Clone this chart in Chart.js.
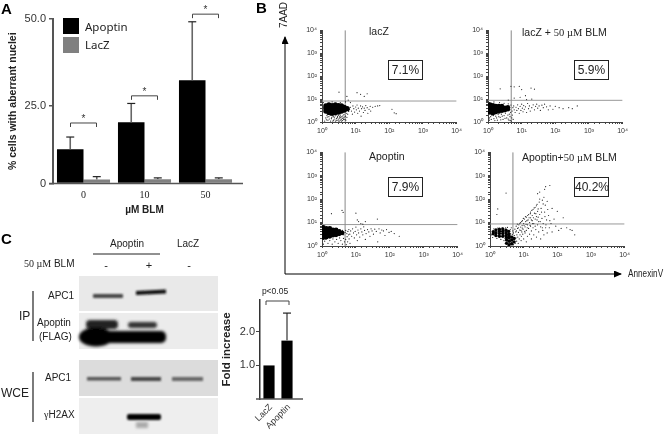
<!DOCTYPE html>
<html>
<head>
<meta charset="utf-8">
<script src="https://cdn.jsdelivr.net/npm/chart.js@4/dist/chart.umd.min.js"></script>
<style>
html, body { margin: 0; padding: 0; background: #fff; }
#page { position: relative; width: 664px; height: 434px; overflow: hidden; font-family: "Liberation Sans", Arial, sans-serif; color: #222; filter: blur(0.3px); }
canvas, svg { position: absolute; }
.t { position: absolute; white-space: nowrap; line-height: 1; }
.s { font-family: "Liberation Serif", serif; }
.box { position: absolute; width: 33px; height: 18px; border: 1px solid #222; text-align: center; line-height: 18px; font-size: 12px; }
.letter { font-weight: bold; font-size: 15px; color: #000; }
</style>
</head>
<body>
<div id="page">
<svg width="664" height="434">
  <defs>
    <filter id="b1" x="-20%" y="-50%" width="140%" height="200%"><feGaussianBlur stdDeviation="0.8"/></filter>
    <filter id="b2" x="-20%" y="-50%" width="140%" height="200%"><feGaussianBlur stdDeviation="1.6"/></filter>
    <marker id="head" markerWidth="8" markerHeight="8" refX="7" refY="3.5" orient="auto" markerUnits="userSpaceOnUse"><path d="M0 0L8 3.5L0 7z" fill="#000"/></marker>
  </defs>
  <!-- panel B arrows -->
  <polyline points="285,274 285,37" fill="none" stroke="#000" stroke-width="1" marker-end="url(#head)"/>
  <polyline points="285,274 621,274" fill="none" stroke="#000" stroke-width="1" marker-end="url(#head)"/>
  <!-- panel C blots -->
  <rect x="79" y="276" width="139" height="35" fill="#e9e9e9"/>
  <rect x="79" y="313" width="139" height="36" fill="#ececec"/>
  <rect x="79" y="360" width="139" height="36" fill="#dcdcdc"/>
  <rect x="79" y="398" width="139" height="36" fill="#eeeeee"/>
  <g filter="url(#b1)">
    <rect x="93" y="294" width="30" height="4" rx="1" fill="#444"/>
    <polygon points="136,291 166,289.5 166,293.5 136,295" fill="#111"/>
    <rect x="87" y="377" width="34" height="3.5" fill="#555"/>
    <rect x="131" y="377" width="30" height="4" fill="#444"/>
    <rect x="172" y="377" width="31" height="4" fill="#666"/>
    <rect x="127" y="414" width="34" height="6" rx="2" fill="#000"/>
  </g>
  <g filter="url(#b2)">
    <rect x="86" y="320" width="32" height="9" rx="4" fill="#222"/>
    <rect x="128" y="322" width="29" height="6" rx="3" fill="#333"/>
    <ellipse cx="96" cy="337" rx="17" ry="9.5" fill="#000"/>
    <rect x="90" y="331" width="76" height="12" rx="5" fill="#000"/>
    <rect x="136" y="422" width="12" height="6" fill="#aaa"/>
  </g>
  <line x1="93" y1="254" x2="160" y2="254" stroke="#222" stroke-width="1"/>
  <line x1="33" y1="291" x2="33" y2="341" stroke="#444" stroke-width="1.4"/>
  <line x1="33" y1="372" x2="33" y2="422" stroke="#444" stroke-width="1.4"/>
</svg>

<canvas id="barA" width="250" height="222" style="left:0;top:0"></canvas>
<canvas id="flow1" width="165" height="115" style="left:300px;top:23px"></canvas>
<canvas id="flow2" width="165" height="115" style="left:466px;top:23px"></canvas>
<canvas id="flow3" width="166" height="117" style="left:300px;top:145px"></canvas>
<canvas id="flow4" width="165" height="117" style="left:468px;top:145px"></canvas>
<canvas id="barC" width="90" height="154" style="left:220px;top:280px"></canvas>

<div class="t letter" style="left:1px;top:1px">A</div>
<div class="t letter" style="left:256px;top:0">B</div>
<div class="t letter" style="left:1px;top:231px">C</div>

<div style="position:absolute;left:63px;top:18px;width:16px;height:16px;background:#000"></div>
<div style="position:absolute;left:63px;top:37px;width:16px;height:16px;background:#808080"></div>
<div class="t" style="left:85px;top:21px;font-family:'Noto Sans';font-size:11.5px">Apoptin</div>
<div class="t" style="left:85px;top:39px;font-family:'Noto Sans';font-size:11.5px">LacZ</div>

<div class="t" style="left:284px;top:15px;font-size:10px;transform:translate(-50%,-50%) rotate(-90deg)">7AAD</div>
<div class="t" style="left:628px;top:269px;font-size:10px;transform:scaleX(0.82);transform-origin:left">AnnexinV</div>

<div class="t" style="left:369px;top:26px;font-size:10.5px">lacZ</div>
<div class="t" style="left:522px;top:27px;font-size:10.5px">lacZ + <span class="s">50 µM</span> BLM</div>
<div class="t" style="left:369px;top:151px;font-size:10.5px">Apoptin</div>
<div class="t" style="left:522px;top:152px;font-size:10.5px">Apoptin+<span class="s">50 µM</span> BLM</div>
<div class="box" style="left:388px;top:60px">7.1%</div>
<div class="box" style="left:574px;top:60px">5.9%</div>
<div class="box" style="left:388px;top:177px">7.9%</div>
<div class="box" style="left:574px;top:177px">40.2%</div>

<div class="t" style="left:127px;top:239px;font-size:10px;transform:translateX(-50%)">Apoptin</div>
<div class="t" style="left:188px;top:239px;font-size:10px;transform:translateX(-50%)">LacZ</div>
<div class="t" style="left:24px;top:259px;font-size:10px"><span class="s">50 µM</span> BLM</div>
<div class="t" style="left:106px;top:260px;font-size:11px;transform:translateX(-50%)">-</div>
<div class="t" style="left:149px;top:260px;font-size:11px;transform:translateX(-50%)">+</div>
<div class="t" style="left:189px;top:260px;font-size:11px;transform:translateX(-50%)">-</div>
<div class="t" style="left:48px;top:291px;font-size:10px">APC1</div>
<div class="t" style="left:37px;top:318px;font-size:10px">Apoptin</div>
<div class="t" style="left:39px;top:332px;font-size:10px">(FLAG)</div>
<div class="t" style="left:19px;top:310px;font-size:12px">IP</div>
<div class="t" style="left:45px;top:373px;font-size:10px">APC1</div>
<div class="t" style="left:44px;top:410px;font-size:10px"><span class="s">γ</span>H2AX</div>
<div class="t" style="left:1px;top:387px;font-size:12px">WCE</div>
<div class="t" style="left:275px;top:287px;font-size:8.5px;transform:translateX(-50%)">p&lt;0.05</div>

<script>
// Panel A
const doses = ['0', '10', '50'];
const apoptinMeans = [11, 19.6, 32.3];
const apoptinErrTop = [14.9, 25.6, 49.2];
const lacZMeans = [1.3, 1.4, 1.4];
const lacZErrTop = [2.2, 1.8, 1.8];
const starHeights = [19.4, 27.8, 51.4];
const ticksA = [0, 25, 50];
const tickLabelsA = ['0', '25.0', '50.0'];

// Fold increase chart
const foldGroups = ['LacZ', 'Apoptin'];
const foldMeans = [1, 1.74];
const foldErrTop = [1, 2.56];
const foldTicks = [1, 2];
const foldTickLabels = ['1.0', '2.0'];

// Flow plots, values
const logTickLabels = ['10⁰', '10¹', '10²', '10³', '10⁴'];
const gate1 = [4.9, 8.2];
const gate2 = [4.9, 8.8];
const gate3 = [4.8, 8.2];
const gate4 = [4.8, 8.7];

const lacZDense = [[1.3,3],[1.3,4],[1.3,5],[1.6,2.6],[1.6,3.5],[1.6,4.6],[1.6,5.6],[2,2.4],[2,3.2],[2,4.1],[2,5.2],[2.5,2.6],[2.5,3.6],[2.5,4.6],[2.5,5.6],[3.1,2.7],[3.1,3.4],[3.1,4.3],[3.1,5.2],[3.8,3],[3.8,4],[3.8,5],[4.6,3.3],[4.6,4.3],[5.6,3.8]];
const lacZSparse = [[1.2,1.1],[1.3,1.5],[1.4,1.9],[1.5,1.2],[1.6,1.7],[1.8,1.1],[1.9,1.4],[2,1.9],[2.2,1.2],[2.3,1.6],[2.5,1.1],[2.6,2],[2.7,1.4],[2.9,1.7],[3,1.2],[3.2,1.05],[3.3,1.5],[3.5,2],[3.7,1.3],[3.9,1.7],[4.1,1.15],[4.3,1.5],[4.5,2.1],[4.8,1.3],[5,1.8],[5.3,2.4],[1.35,1.25],[1.45,1.65],[1.65,1.35],[1.75,1.95],[1.95,1.6],[2.1,1.1],[2.15,1.75],[2.4,1.35],[2.45,1.85],[2.75,1.15],[2.85,1.55],[3.05,1.95],[3.15,1.35],[3.4,1.75],[3.45,1.15],[3.6,1.55],[3.8,1.1],[4,1.45],[4.2,1.85],[4.4,1.3],[4.7,1.65],[5.1,1.2],[5.5,1.6],[5.8,2.2],[6.2,2.9],[6.6,3.6],[7,4.4],[7.5,3],[8,2.2],[8.3,5],[8.8,3.8],[9.3,2.7],[10,4.5],[10.5,3.4],[11,5.5],[11.5,2.4],[12,4],[13,3],[14,5],[14.5,1.8],[15,3.8],[16,4.6],[17,2.6],[18,4],[19,3.2],[20,5.2],[22,4.2],[23,2.4],[25,3.6],[27,4.8],[28,3],[32,4.4],[38,4.8],[45,5],[52,5.2],[120,3.6],[140,2.5],[160,2.3],[3.2,20],[5.5,13],[6,9],[11,19],[14,16],[18,13],[22,17],[1.1,7],[2,7.5],[3.5,7],[5,7.5],[7,7]];

const lacZBlmDense = [[1.15,2.6],[1.15,3.6],[1.15,4.7],[1.15,5.8],[1.4,2.4],[1.4,3.2],[1.4,4.2],[1.4,5.4],[1.7,2.7],[1.7,3.7],[1.7,4.9],[2.1,2.9],[2.1,3.9],[2.1,5],[2.6,3.1],[2.6,4],[2.6,4.9],[3.2,3.3],[3.2,4.2],[3.9,3.6],[3.9,4.4]];
const lacZBlmSparse = [[1.1,1.2],[1.2,1.7],[1.3,2],[1.5,1.4],[1.7,1.8],[1.9,1.2],[2,2.1],[2.3,1.6],[2.5,2.2],[2.8,1.3],[3,1.9],[3.3,2.4],[3.6,1.5],[3.9,2],[4.2,1.2],[4.5,1.7],[4.7,2.6],[5,1.1],[5.1,1.5],[5.3,2],[5.6,1.3],[1.1,1.5],[1.25,1.3],[1.45,1.9],[1.6,1.15],[1.8,1.5],[2.1,1.7],[2.4,1.25],[2.65,1.8],[3.2,1.45],[4,1.35],[4.3,2.2],[4.6,1.15],[1.1,7],[1.5,7.5],[2.2,7],[3,6.5],[4,6.2],[4.8,5.5],[5.2,3],[5.5,4.2],[5.8,5],[6,3.4],[6.4,2.6],[6.8,4.4],[7.2,3.2],[7.6,5.6],[8,3.8],[8.5,2.4],[9,4.8],[9.5,3.2],[10,6],[10.5,4],[11,2.8],[11.5,5.2],[12,3.6],[13,4.6],[14,2.6],[15,6.4],[16,3.8],[17,5],[18,3],[20,4.2],[22,5.6],[24,3.4],[26,4.8],[28,6],[30,4],[33,5],[36,3.2],[40,5.4],[44,4.2],[48,6],[55,4.6],[62,3.4],[70,5],[85,3.6],[100,4.8],[130,4.2],[170,3.8],[250,4.2],[320,3.8],[450,5],[2.3,28],[4.8,36],[6,34],[8.5,36],[10,26],[13,14],[19,30],[24,27],[6,11],[9,12],[4,9],[14,9.5],[20,10]];

const apoptinDense = [[1.1,2.3],[1.1,3.1],[1.1,4.1],[1.1,5.2],[1.1,6.2],[1.35,2.4],[1.35,3.3],[1.35,4.4],[1.35,5.6],[1.7,2.6],[1.7,3.5],[1.7,4.6],[1.7,5.6],[2.1,2.9],[2.1,3.8],[2.1,4.8],[2.6,3],[2.6,4],[2.6,4.8],[3.2,3.3],[3.2,4.2],[3.9,3.6]];
const apoptinSparse = [[1.1,1.2],[1.2,1.6],[1.3,1.9],[1.5,1.3],[1.7,1.7],[2,1.2],[2.1,2],[2.4,1.5],[2.7,1.9],[3,1.3],[3.3,2.2],[3.6,1.7],[4,1.2],[4.3,2.1],[4.6,1.5],[5,1.9],[5.2,1.15],[5.5,2.5],[5.7,1.5],[6,3],[6.3,2],[6.7,1.3],[4,4.6],[4.4,3],[4.8,3.8],[5,4.6],[5.4,3.4],[5.8,4.2],[6.2,5],[6.6,3.2],[7,4.4],[7.5,2.6],[8,5.4],[8.5,3.6],[9,2.2],[9.5,4.2],[10,6.4],[10.5,3],[11,1.7],[11.5,4.8],[12,3.6],[13,2.4],[14,5.4],[15,4],[16,3],[17,6.6],[18,4.6],[19,1.9],[20,3.4],[22,5],[24,4],[26,2.6],[28,5.4],[30,4.4],[33,3.2],[36,5.2],[40,4.2],[44,1.5],[48,5.4],[52,3.6],[58,4.8],[65,4.4],[72,2.8],[80,5],[95,3.8],[110,4.2],[135,3.4],[190,2.6],[14,9],[11,13],[19,11],[43,14],[1.9,24],[3.9,33],[4.2,27],[10,25],[12,11],[16,8.5]];

const apoptinBlmDense = [[1.25,3.3],[1.25,4.1],[1.5,2.8],[1.5,3.7],[1.5,4.8],[1.9,2.6],[1.9,3.4],[1.9,4.3],[1.9,5.2],[2.4,2.6],[2.4,3.4],[2.4,4.3],[2.4,5.3],[3,2.8],[3,3.7],[3,4.7],[3.6,3.2],[3.6,4.2],[3.1,1.3],[3.1,1.8],[3.1,2.3],[3.7,1.15],[3.7,1.6],[3.7,2.2],[3.7,2.7],[4.4,1.25],[4.4,1.8],[4.4,2.4],[5.2,1.5],[5.2,2.1]];
const apoptinBlmSparse = [[1.1,3],[1.2,2.3],[1.3,5.4],[1.6,2.1],[1.7,5.8],[2.1,1.9],[2.3,6],[2.6,1.7],[2.8,2.1],[2.9,5.9],[3.3,6.2],[3.4,1.1],[4,5],[4.1,3.4],[4.3,6],[4.6,3.1],[4.8,4.4],[5,1.15],[5,3.6],[5.3,2.8],[5.5,5.2],[5.6,1.3],[5.8,4],[5.9,2.2],[6,7],[6.2,1.6],[6.3,3],[6.6,5.6],[6.7,2.4],[6.9,1.3],[7,3.8],[7.2,8],[7.4,2],[7.6,4.8],[7.8,3],[8,10],[8.2,6.4],[8.4,1.7],[8.6,2.6],[8.8,4],[9,7.4],[9.2,12],[9.4,3.2],[9.6,5.2],[10,2],[10,9],[10.5,14],[11,3.6],[11,6.6],[11.5,11],[12,1.5],[12,4.6],[12,17],[13,8],[13,2.6],[13.5,13],[14,5.6],[14,22],[15,3.2],[15,10],[16,7],[16,16],[16,28],[17,2],[17,4.4],[18,12],[18,20],[19,6],[19,36],[20,3],[20,9],[21,25],[22,14],[22,45],[23,5],[24,2.4],[24,18],[25,60],[26,8],[26,30],[28,4],[28,11],[29,75],[30,22],[30,100],[32,2],[32,6.6],[33,40],[35,15],[36,90],[37,4.6],[38,9],[40,120],[40,3],[42,28],[44,55],[45,6],[48,13],[50,3.6],[50,80],[55,20],[58,6],[60,380],[65,9],[70,40],[70,4],[80,14],[90,7],[100,30],[110,4.6],[130,5.6],[150,16],[190,6],[240,5],[275,4.6],[330,3],[3,180],[1.7,38],[1.6,22],[45,340],[42,260],[30,200],[26,170],[6.1,4.4],[6.5,8.6],[7,6],[7.7,9],[8.3,4.6],[8.7,11],[9.1,5.8],[9.8,15],[10.3,7.6],[10.8,4.2],[11.3,18],[11.8,8.4],[12.5,12],[12.8,6],[13.2,20],[14.5,16],[15.5,7.6],[15.8,24],[17,13],[17.5,33],[18.5,9],[19.5,16],[20.5,42],[22,7],[23,24],[24,52],[25,13],[27,17],[27,38],[31,11],[34,28],[36,6],[38,62],[43,18],[46,8],[52,36],[60,12]];

const toPoints = pairs => pairs.map(p => ({ x: p[0], y: p[1] }));

// The printed y axis of panel A is not quite even: 25.0 sits lower than halfway
class PrintedScale extends Chart.LinearScale {
    getPixelForValue(v) {
        const m = v < 25 ? v * 23.7 / 25 : 23.7 + (v - 25) * 26.3 / 25;
        return super.getPixelForValue(m);
    }
}
PrintedScale.id = 'printed';
PrintedScale.defaults = Chart.LinearScale.defaults;
Chart.register(PrintedScale);

// Error bars, with the upper limits kept on each dataset
const errorBars = {
    id: 'errorBars',
    afterDatasetsDraw(chart) {
        const c = chart.ctx;
        const y = chart.scales.y;
        chart.data.datasets.forEach((ds, i) => {
            chart.getDatasetMeta(i).data.forEach((bar, j) => {
                if (ds.errTop[j] === ds.data[j]) return;
                const top = y.getPixelForValue(ds.errTop[j]);
                c.strokeStyle = '#666';
                c.lineWidth = 1.6;
                c.beginPath();
                c.moveTo(bar.x, bar.y);
                c.lineTo(bar.x, top);
                c.stroke();
                c.strokeStyle = '#222';
                c.lineWidth = 1.2;
                c.beginPath();
                c.moveTo(bar.x - 4, top);
                c.lineTo(bar.x + 4, top);
                c.stroke();
            });
        });
    }
};

// x axis runs on past the last group in both bar charts
function axisRunOn(left, right) {
    return {
        id: 'axisRunOn',
        afterDraw(chart) {
            const a = chart.chartArea;
            const c = chart.ctx;
            c.strokeStyle = '#555';
            c.lineWidth = 1.5;
            c.beginPath();
            c.moveTo(a.left - left, a.bottom);
            c.lineTo(a.right + right, a.bottom);
            c.stroke();
        }
    };
}

function bracket(c, x1, x2, y) {
    c.strokeStyle = '#444';
    c.lineWidth = 1;
    c.beginPath();
    c.moveTo(x1, y + 4);
    c.lineTo(x1, y);
    c.lineTo(x2, y);
    c.lineTo(x2, y + 4);
    c.stroke();
}

const starBrackets = {
    id: 'starBrackets',
    afterDraw(chart) {
        const c = chart.ctx;
        starHeights.forEach((h, i) => {
            const mid = chart.scales.x.getPixelForTick(i);
            const y = chart.scales.y.getPixelForValue(h);
            bracket(c, mid - 13, mid + 13, y);
            c.fillStyle = '#333';
            c.font = '10px "Liberation Sans"';
            c.textAlign = 'center';
            c.textBaseline = 'middle';
            c.fillText('*', mid, y - 4);
        });
    }
};

const foldBracket = {
    id: 'foldBracket',
    afterDraw(chart) {
        const x = chart.scales.x;
        bracket(chart.ctx, x.getPixelForTick(0) - 3, x.getPixelForTick(1) + 2, chart.chartArea.top + 1);
    }
};

new Chart(document.getElementById('barA'), {
    type: 'bar',
    data: {
        labels: doses,
        datasets: [
            { label: 'Apoptin', data: apoptinMeans, errTop: apoptinErrTop, backgroundColor: '#000' },
            { label: 'LacZ', data: lacZMeans, errTop: lacZErrTop, backgroundColor: '#808080' }
        ]
    },
    options: {
        responsive: false,
        animation: false,
        layout: { padding: { top: 19, right: 14, bottom: 6, left: 7 } },
        plugins: { legend: { display: false }, tooltip: { enabled: false } },
        datasets: { bar: { categoryPercentage: 0.87, barPercentage: 1 } },
        scales: {
            x: {
                afterFit: s => { s.height = 32.5; },
                grid: { display: false, drawTicks: false },
                border: { display: false },
                ticks: { color: '#222', font: { family: 'Liberation Serif', size: 10 }, padding: 6 },
                title: { display: true, text: 'µM BLM', color: '#222', font: { family: 'Liberation Sans', size: 10, weight: 'bold' }, padding: 0 }
            },
            y: {
                type: 'printed',
                min: 0,
                max: 50,
                afterFit: s => { s.width = 46; },
                afterBuildTicks: s => { s.ticks = ticksA.map(v => ({ value: v })); },
                grid: { drawOnChartArea: false, color: '#555', tickLength: 4, lineWidth: 1.5 },
                border: { color: '#555', width: 2 },
                ticks: { color: '#333', font: { family: 'Liberation Sans', size: 11 }, padding: 3, callback: (v, i) => tickLabelsA[i] },
                title: { display: true, text: '% cells with aberrant nuclei', color: '#222', font: { family: 'Liberation Sans', size: 10.5, weight: 'bold' }, padding: 0 }
            }
        }
    },
    plugins: [errorBars, starBrackets, axisRunOn(4, 7)]
});

new Chart(document.getElementById('barC'), {
    type: 'bar',
    data: {
        labels: foldGroups,
        datasets: [{ label: 'Fold increase', data: foldMeans, errTop: foldErrTop, backgroundColor: '#000' }]
    },
    options: {
        responsive: false,
        animation: false,
        layout: { padding: { top: 20, right: 14, bottom: 0, left: 0 } },
        plugins: { legend: { display: false }, tooltip: { enabled: false } },
        datasets: { bar: { categoryPercentage: 0.62, barPercentage: 1 } },
        scales: {
            x: {
                afterFit: s => { s.height = 35; },
                grid: { display: false, drawTicks: false },
                border: { display: false },
                ticks: { color: '#333', font: { family: 'Liberation Sans', size: 9 }, autoSkip: false, minRotation: 45, maxRotation: 45, padding: 3, labelOffset: 2 }
            },
            y: {
                min: 0,
                max: 2.95,
                afterFit: s => { s.width = 40; },
                afterBuildTicks: s => { s.ticks = foldTicks.map(v => ({ value: v })); },
                grid: { drawOnChartArea: false, color: '#444', tickLength: 4 },
                border: { color: '#333', width: 1.5 },
                ticks: { color: '#333', font: { family: 'Liberation Sans', size: 11 }, padding: 1, callback: (v, i) => foldTickLabels[i] },
                title: { display: true, text: 'Fold increase', color: '#222', font: { family: 'Liberation Sans', size: 11.5, weight: 'bold' }, padding: 0 }
            }
        }
    },
    plugins: [errorBars, foldBracket, axisRunOn(4, 7)]
});

function logAxis(size) {
    return {
        type: 'logarithmic',
        min: 1,
        max: 10000,
        afterFit: s => { if (s.isHorizontal()) s.height = 14; else s.width = 22; },
        grid: { drawOnChartArea: false, color: '#444', tickLength: 2 },
        border: { color: '#444', width: 1 },
        ticks: {
            autoSkip: false,
            maxRotation: 0,
            padding: 3,
            color: '#333',
            font: { family: 'Liberation Sans', size: size },
            callback: v => {
                const e = Math.round(Math.log10(v));
                return Math.abs(10 ** e - v) < 1e-6 ? logTickLabels[e] : '';
            }
        }
    };
}

function flowPlot(id, dense, sparse, gate, denseRadius) {
    new Chart(document.getElementById(id), {
        type: 'scatter',
        data: {
            datasets: [
                { label: 'dense', data: toPoints(dense), pointRadius: denseRadius, backgroundColor: '#000', borderWidth: 0 },
                { label: 'events', data: toPoints(sparse), pointRadius: 0.6, backgroundColor: '#222', borderWidth: 0 },
                { label: 'x gate', data: [{ x: gate[0], y: 1 }, { x: gate[0], y: 10000 }], showLine: true, borderColor: '#888', borderWidth: 1, pointRadius: 0 },
                { label: 'y gate', data: [{ x: 1, y: gate[1] }, { x: 10000, y: gate[1] }], showLine: true, borderColor: '#999', borderWidth: 1, pointRadius: 0 }
            ]
        },
        options: {
            responsive: false,
            animation: false,
            layout: { padding: { top: 6, right: 6, bottom: 2, left: 0 } },
            plugins: { legend: { display: false }, tooltip: { enabled: false } },
            scales: { x: logAxis(7), y: logAxis(7) }
        }
    });
}

flowPlot('flow1', lacZDense, lacZSparse, gate1, 2.6);
flowPlot('flow2', lacZBlmDense, lacZBlmSparse, gate2, 2.3);
flowPlot('flow3', apoptinDense, apoptinSparse, gate3, 2.4);
flowPlot('flow4', apoptinBlmDense, apoptinBlmSparse, gate4, 1.7);
</script>
</div>
</body>
</html>
